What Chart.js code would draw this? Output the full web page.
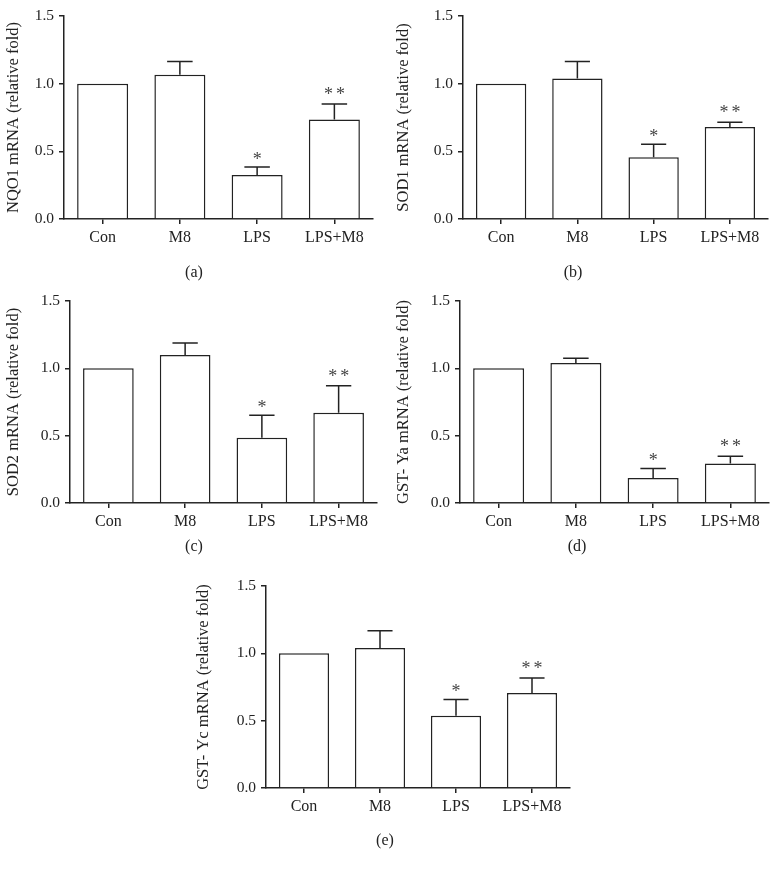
<!DOCTYPE html>
<html>
<head>
<meta charset="utf-8">
<script src="https://cdn.jsdelivr.net/npm/chart.js@4/dist/chart.umd.min.js"></script>
<style>
  html, body { margin: 0; padding: 0; background: #fff; }
  #wrap { position: relative; width: 779px; height: 872px; overflow: hidden; background: #fff; }
  canvas { position: absolute; }
  .cap { position: absolute; font-family: "Liberation Serif", "DejaVu Serif", serif; font-size: 16px; color: #222; transform: translate(-50%, -50%); white-space: nowrap; }
</style>
</head>
<body>
<div id="wrap"></div>
<script>
// ---- data ----
const categories = ['Con', 'M8', 'LPS', 'LPS+M8'];
const yTickValues = [0, 0.5, 1.0, 1.5];
const stars = ['', '', '*', '**'];

const nqo1Values = [1.0, 1.065, 0.325, 0.735];
const nqo1Errors = [0, 0.098, 0.059, 0.115];

const sod1Values = [1.0, 1.038, 0.456, 0.68];
const sod1Errors = [0, 0.125, 0.096, 0.035];

const sod2Values = [1.0, 1.099, 0.484, 0.67];
const sod2Errors = [0, 0.089, 0.168, 0.20];

const gstYaValues = [1.0, 1.04, 0.185, 0.294];
const gstYaErrors = [0, 0.035, 0.072, 0.054];

const gstYcValues = [1.0, 1.039, 0.537, 0.705];
const gstYcErrors = [0, 0.129, 0.121, 0.112];

const panelTitles = ['NQO1 mRNA (relative fold)', 'SOD1 mRNA (relative fold)', 'SOD2 mRNA (relative fold)', 'GST- Ya mRNA (relative fold)', 'GST- Yc mRNA (relative fold)'];
const captions = ['(a)', '(b)', '(c)', '(d)', '(e)'];

// ---- layout (positions only) ----
const panels = [
  { values: nqo1Values, errors: nqo1Errors, title: panelTitles[0], cap: captions[0], left: 0,   top: 0,   w: 390, h: 285, pl: 64, pr: 373, pt: 16, pb: 219, capX: 194, capY: 272 },
  { values: sod1Values, errors: sod1Errors, title: panelTitles[1], cap: captions[1], left: 390, top: 0,   w: 389, h: 285, pl: 73, pr: 378, pt: 16, pb: 219, capX: 573, capY: 272 },
  { values: sod2Values, errors: sod2Errors, title: panelTitles[2], cap: captions[2], left: 0,   top: 285, w: 390, h: 285, pl: 70, pr: 377, pt: 16, pb: 218, capX: 194, capY: 546 },
  { values: gstYaValues, errors: gstYaErrors, title: panelTitles[3], cap: captions[3], left: 390, top: 285, w: 389, h: 285, pl: 70, pr: 379, pt: 16, pb: 218, capX: 577, capY: 546 },
  { values: gstYcValues, errors: gstYcErrors, title: panelTitles[4], cap: captions[4], left: 190, top: 570, w: 400, h: 302, pl: 76, pr: 380, pt: 16, pb: 218, capX: 385, capY: 840 }
];

const FONT = '"Liberation Serif", "DejaVu Serif", serif';
const INK = '#222';

const errorBarPlugin = {
  id: 'errorBars',
  afterDatasetsDraw(chart) {
    const ctx = chart.ctx;
    const meta = chart.getDatasetMeta(0);
    const ds = chart.data.datasets[0];
    const y = chart.scales.y;
    ctx.save();
    ctx.strokeStyle = INK;
    ctx.lineWidth = 1.5;
    meta.data.forEach((bar, i) => {
      const err = ds.errors[i];
      const v = ds.data[i];
      let topPx = y.getPixelForValue(v);
      if (err > 0) {
        topPx = y.getPixelForValue(v + err);
        const x = bar.x;
        const half = bar.width / 4;
        ctx.beginPath();
        ctx.moveTo(x, y.getPixelForValue(v));
        ctx.lineTo(x, topPx);
        ctx.moveTo(x - half, topPx);
        ctx.lineTo(x + half, topPx);
        ctx.stroke();
      }
      const s = ds.stars[i];
      if (s) {
        ctx.fillStyle = '#444';
        ctx.font = '18px ' + FONT;
        ctx.textAlign = 'center';
        ctx.textBaseline = 'middle';
        const sy = topPx - (s.length > 1 ? 9 : 7);
        if (s.length === 1) {
          ctx.fillText('*', bar.x, sy);
        } else {
          ctx.fillText('*', bar.x - 6, sy);
          ctx.fillText('*', bar.x + 6, sy);
        }
      }
    });
    ctx.restore();
  }
};

const wrap = document.getElementById('wrap');
panels.forEach((p) => {
  const c = document.createElement('canvas');
  c.width = p.w; c.height = p.h;
  c.style.left = p.left + 'px'; c.style.top = p.top + 'px';
  c.style.width = p.w + 'px'; c.style.height = p.h + 'px';
  wrap.appendChild(c);

  const cap = document.createElement('div');
  cap.className = 'cap';
  cap.textContent = p.cap;
  cap.style.left = p.capX + 'px';
  cap.style.top = p.capY + 'px';
  wrap.appendChild(cap);

  new Chart(c, {
    type: 'bar',
    data: {
      labels: categories,
      datasets: [{
        data: p.values,
        errors: p.errors,
        stars: stars,
        backgroundColor: '#ffffff',
        borderColor: INK,
        borderWidth: 1.5,
        barPercentage: 0.66,
        categoryPercentage: 1.0
      }]
    },
    options: {
      responsive: false,
      animation: false,
      devicePixelRatio: 1,
      layout: { padding: { top: p.pt, right: p.w - p.pr, left: 0, bottom: 0 } },
      plugins: { legend: { display: false }, tooltip: { enabled: false } },
      scales: {
        x: {
          offset: true,
          grid: { display: true, drawOnChartArea: false, offset: false, tickLength: 5, color: INK, lineWidth: 1.5 },
          border: { display: true, color: INK, width: 1.5 },
          ticks: { color: INK, font: { family: FONT, size: 16 }, padding: 4, maxRotation: 0, autoSkip: false },
          afterFit(s) { s.height = p.h - p.pb; }
        },
        y: {
          min: 0, max: 1.5,
          afterBuildTicks(s) { s.ticks = yTickValues.map(v => ({ value: v })); },
          grid: { display: true, drawOnChartArea: false, tickLength: 5, color: INK, lineWidth: 1.5 },
          border: { display: true, color: INK, width: 1.5 },
          ticks: { color: INK, font: { family: FONT, size: 15.5 }, padding: 5, callback: v => Number(v).toFixed(1) },
          title: { display: true, text: p.title, color: INK, font: { family: FONT, size: 16.5 }, padding: { top: 4, bottom: 0 } },
          afterFit(s) { s.width = p.pl; }
        }
      }
    },
    plugins: [errorBarPlugin]
  });
});
</script>
</body>
</html>
